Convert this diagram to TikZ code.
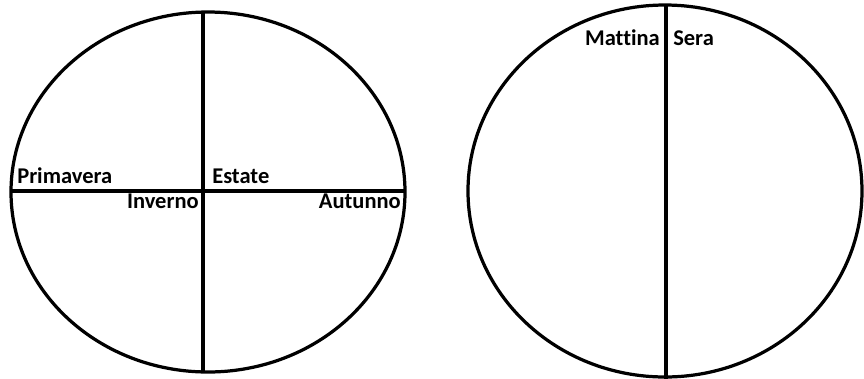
\documentclass[tikz,border=0pt]{standalone}
\usepackage{fontspec}
\setmainfont{Carlito}[Ligatures=NoCommon]
\usepackage{tikz}
\usetikzlibrary{positioning,calc}

\begin{document}
\begin{tikzpicture}[
    x={(0.025cm,0)}, y={(0,-0.025cm)},
    ring/.style={draw, line width=2.3pt},
    bar/.style={line width=2.3pt},
    lbl/.style={inner sep=0pt, font=\fontsize{16}{18}\selectfont\bfseries}
]
\useasboundingbox (0,0) rectangle (864,378);

% stagioni
\draw[ring] (208,192) ellipse (197 and 180);
\coordinate (top1) at (203,12);
\coordinate (bot1) at (203,372);
\coordinate (left1) at (11,191);
\coordinate (right1) at (405,191);
\draw[bar] (top1) -- (bot1);
\draw[bar] (left1) -- (right1);

\node[lbl, anchor=base west] (prim) at (17,183) {Primavera};
\node[lbl, anchor=base west] (est) at (212,183) {Estate};
\node[lbl, anchor=base east] (inv) at (199,208) {Inverno};
\node[lbl, anchor=base east] (aut) at (401,208) {Autunno};

% giorno
\draw[ring] (665,191) ellipse (197 and 186);
\coordinate (top2) at (666,5);
\coordinate (bot2) at (666,380);
\draw[bar] (top2) -- (bot2);

\node[lbl, anchor=base east] (matt) at (660,45) {Mattina};
\node[lbl, anchor=base west] (sera) at (673,45) {Sera};

\end{tikzpicture}
\end{document}
